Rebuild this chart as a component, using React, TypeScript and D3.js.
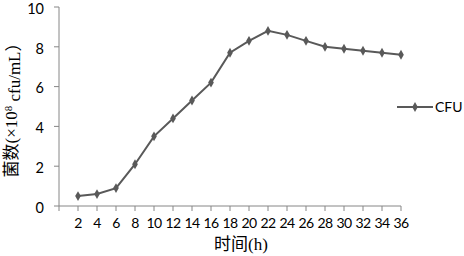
import React, { useRef, useEffect } from "react";
import * as d3 from "d3";

const hours = [2, 4, 6, 8, 10, 12, 14, 16, 18, 20, 22, 24, 26, 28, 30, 32, 34, 36];
const cfu = [0.5, 0.6, 0.9, 2.1, 3.5, 4.4, 5.3, 6.2, 7.7, 8.3, 8.8, 8.6, 8.3, 8.0, 7.9, 7.8, 7.7, 7.6];
const yTicks = [0, 2, 4, 6, 8, 10];
const seriesName = "CFU";

const App = () => {
  const svgRef = useRef<SVGSVGElement>(null);

  useEffect(() => {
    const svg = d3.select(svgRef.current);
    const width = 464;
    const height = 256;
    const sansFont = "Lato, 'Open Sans', sans-serif";
    const serifFont = "'Liberation Serif', 'Noto Sans CJK SC', serif";
    const axisColor = "#868686";
    const lineColor = "#595959";

    const x = d3.scaleLinear().domain([0, 36]).range([59, 401]);
    const y = d3.scaleLinear().domain([0, 10]).range([206, 7]);

    svg.attr("width", width).attr("height", height);

    // y axis
    const yAxis = svg.append("g").attr("transform", `translate(${x(0)},0)`);
    yAxis.append("line").attr("x1", 0).attr("x2", 0).attr("y1", y(0)).attr("y2", y(10)).attr("stroke", axisColor);
    yAxis
      .selectAll(".yt")
      .data(yTicks)
      .enter()
      .append("line")
      .attr("x1", -5)
      .attr("x2", 0)
      .attr("y1", (d) => y(d))
      .attr("y2", (d) => y(d))
      .attr("stroke", axisColor);
    yAxis
      .selectAll(".yl")
      .data(yTicks)
      .enter()
      .append("text")
      .attr("x", -15)
      .attr("y", (d) => y(d) + 1.5)
      .attr("dy", "0.36em")
      .attr("text-anchor", "end")
      .style("font-family", sansFont)
      .style("font-size", "14.5px")
      .attr("fill", "#000")
      .text((d) => d);

    // x axis
    const xAxis = svg.append("g").attr("transform", `translate(0,${y(0)})`);
    xAxis.append("line").attr("x1", x(0)).attr("x2", x(36)).attr("y1", 0).attr("y2", 0).attr("stroke", axisColor);
    xAxis
      .selectAll(".xt")
      .data([0, ...hours])
      .enter()
      .append("line")
      .attr("x1", (d) => x(d))
      .attr("x2", (d) => x(d))
      .attr("y1", 0)
      .attr("y2", 5)
      .attr("stroke", axisColor);
    xAxis
      .selectAll(".xl")
      .data(hours)
      .enter()
      .append("text")
      .attr("x", (d) => x(d))
      .attr("y", 17)
      .attr("dy", "0.36em")
      .attr("text-anchor", "middle")
      .style("font-family", sansFont)
      .style("font-size", "14px")
      .style("letter-spacing", "-0.5px")
      .attr("fill", "#000")
      .text((d) => d);

    // axis titles
    svg
      .append("text")
      .attr("x", 241)
      .attr("y", 250)
      .attr("text-anchor", "middle")
      .style("font-family", serifFont)
      .style("font-size", "17px")
      .text("时间(h)");

    const yTitle = svg
      .append("text")
      .attr("transform", "translate(17,106) rotate(-90)")
      .attr("text-anchor", "middle")
      .style("font-family", serifFont)
      .style("font-size", "17px");
    yTitle.append("tspan").text("菌数(×10");
    yTitle.append("tspan").attr("dy", "-0.5em").style("font-size", "11px").text("8");
    yTitle.append("tspan").attr("dy", "0.5em").text(" cfu/mL）");

    // line
    const pts = hours.map((h, i) => [h, cfu[i]] as [number, number]);
    const line = d3.line<[number, number]>().x((d) => x(d[0])).y((d) => y(d[1]));
    svg.append("path").datum(pts).attr("d", line).attr("fill", "none").attr("stroke", lineColor).attr("stroke-width", 2);

    const diamond = d3.symbol().type(d3.symbolDiamond).size(28);
    svg
      .selectAll(".pt")
      .data(pts)
      .enter()
      .append("path")
      .attr("d", diamond)
      .attr("transform", (d) => `translate(${x(d[0])},${y(d[1])})`)
      .attr("fill", lineColor);

    // legend
    const lg = svg.append("g").attr("transform", "translate(397,107)");
    lg.append("line").attr("x1", 0).attr("x2", 36).attr("y1", 0).attr("y2", 0).attr("stroke", lineColor).attr("stroke-width", 2);
    lg.append("path").attr("d", diamond).attr("transform", "translate(18,0)").attr("fill", lineColor);
    lg.append("text")
      .attr("x", 38)
      .attr("y", 0)
      .attr("dy", "0.36em")
      .style("font-family", sansFont)
      .style("font-size", "14px")
      .text(seriesName);

    return () => {
      svg.selectAll("*").remove();
    };
  }, []);

  return <svg ref={svgRef} style={{ position: "absolute", left: 0, top: 0 }} />;
};

export default App;
